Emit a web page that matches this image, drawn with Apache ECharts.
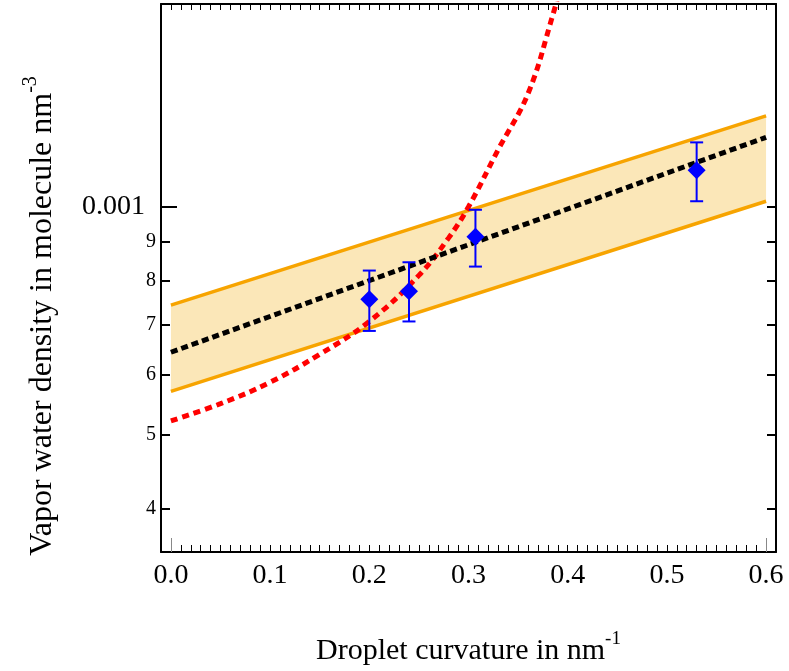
<!DOCTYPE html>
<html><head><meta charset="utf-8">
<script src="https://cdn.jsdelivr.net/npm/echarts@6/dist/echarts.min.js"></script>
<style>html,body{margin:0;padding:0;background:#fff}#c{width:789px;height:671px}</style>
</head><body><div id="c"></div>
<script>
// ---- data ----
const xTickLabels = [0, 0.1, 0.2, 0.3, 0.4, 0.5, 0.6];
const xRange = [-0.01, 0.61];
const yTickValues = [4e-4, 5e-4, 6e-4, 7e-4, 8e-4, 9e-4];
const yTickLabels = ['4', '5', '6', '7', '8', '9'];
const yMajorValue = 1e-3;
const yMajorLabel = '0.001';
const yRange = [3.506e-4, 1.851e-3];

const pointX = [0.200, 0.240, 0.307, 0.530];
const pointY = [7.55e-4, 7.74e-4, 9.13e-4, 1.117e-3];
const errHigh = [8.24e-4, 8.45e-4, 9.91e-4, 1.216e-3];
const errLow = [6.86e-4, 7.06e-4, 8.34e-4, 1.017e-3];

const fitX = [0, 0.6];
const fitMid = [6.43e-4, 1.235e-3];
const fitUpper = [7.42e-4, 1.318e-3];
const fitLower = [5.71e-4, 1.017e-3];

const kelvinX = [0, 0.05, 0.10, 0.15, 0.20, 0.25, 0.28, 0.30, 0.33, 0.36, 0.385, 0.395];
const kelvinY = [5.22e-4, 5.50e-4, 5.87e-4, 6.39e-4, 7.06e-4, 8.12e-4, 9.1e-4, 1.0e-3, 1.19e-3, 1.41e-3, 1.79e-3, 2.0e-3];

const xTitle = 'Droplet curvature in nm';
const xTitleSup = '-1';
const yTitle = 'Vapor water density in molecule nm';
const yTitleSup = '-3';

// ---- build ----
const L = v => Math.log10(v);
const FONT = 'Liberation Serif';
const xMinorTicks = [];
for (let i = 0; i <= 60; i++) xMinorTicks.push(+(i * 0.01).toFixed(2));

const chart = echarts.init(document.getElementById('c'), null, {renderer: 'canvas'});

const axisLineStyle = {show: true, onZero: false, lineStyle: {color: '#000', width: 2}};
const hiddenLine = {show: false, onZero: false};
const baseX = {
  type: 'value', min: xRange[0], max: xRange[1], splitLine: {show: false},
  axisLine: axisLineStyle
};
const baseY = {
  type: 'value', min: L(yRange[0]), max: L(yRange[1]), splitLine: {show: false},
  axisLine: axisLineStyle
};
const yAll = yTickValues.concat([yMajorValue]).map(L);

const titleRich = (size, sup, lh) => ({
  b: {fontFamily: FONT, fontSize: size, color: '#000', lineHeight: lh, verticalAlign: 'bottom'},
  s: {fontFamily: FONT, fontSize: sup, color: '#000', lineHeight: sup, verticalAlign: 'top'}
});

const option = {
  animation: false,
  backgroundColor: '#fff',
  grid: {left: 161, top: 4, width: 615, height: 552, containLabel: false},
  xAxis: [
    Object.assign({}, baseX, {
      position: 'bottom',
      name: '{b|' + xTitle + '}{s|' + xTitleSup + '}',
      nameLocation: 'middle', nameGap: 78,
      nameTextStyle: {rich: titleRich(30, 19, 36)},
      axisTick: {show: true, inside: true, length: 7, customValues: xMinorTicks, lineStyle: {color: '#000', width: 1}},
      axisLabel: {show: true, margin: 10, customValues: xTickLabels, fontFamily: FONT, fontSize: 28, color: '#000',
        formatter: v => v.toFixed(1)}
    }),
    Object.assign({}, baseX, {
      position: 'top',
      axisTick: {show: true, inside: true, length: 6, customValues: xMinorTicks, lineStyle: {color: '#000', width: 1}},
      axisLabel: {show: false}
    }),
    Object.assign({}, baseX, {
      position: 'bottom',
      axisLine: hiddenLine,
      axisTick: {show: true, inside: true, length: 14, customValues: [xTickLabels[0], xTickLabels[xTickLabels.length - 1]], lineStyle: {color: '#888', width: 1}},
      axisLabel: {show: false}
    })
  ],
  yAxis: [
    Object.assign({}, baseY, {
      position: 'left',
      name: '{b|' + yTitle + '}{s|' + yTitleSup + '}',
      nameLocation: 'middle', nameGap: 102, nameRotate: 90,
      nameTextStyle: {rich: titleRich(32, 20, 38), padding: [0, 76, 0, 0]},
      axisTick: {show: true, inside: true, length: 9, customValues: yTickValues.map(L), lineStyle: {color: '#000', width: 2}},
      axisLabel: {show: true, margin: 5, customValues: yTickValues.map(L), fontFamily: FONT, fontSize: 20, color: '#000',
        formatter: v => {
          const i = yTickValues.findIndex(t => Math.abs(L(t) - v) < 1e-6);
          return i >= 0 ? yTickLabels[i] : '';
        }}
    }),
    Object.assign({}, baseY, {
      position: 'left',
      axisLine: hiddenLine,
      axisTick: {show: true, inside: true, length: 16, customValues: [L(yMajorValue)], lineStyle: {color: '#000', width: 2}},
      axisLabel: {show: true, margin: 16, customValues: [L(yMajorValue)], fontFamily: FONT, fontSize: 28, color: '#000',
        formatter: () => yMajorLabel}
    }),
    Object.assign({}, baseY, {
      position: 'right',
      axisTick: {show: true, inside: true, length: 9, customValues: yAll, lineStyle: {color: '#000', width: 2}},
      axisLabel: {show: false}
    })
  ],
  series: [
    {
      type: 'custom', name: 'band', xAxisIndex: 0, yAxisIndex: 0, z: 1,
      data: fitX.map((x, i) => [x, L(fitLower[i]), L(fitUpper[i])]),
      renderItem: (params, api) => {
        if (params.dataIndex !== 0) return null;
        const pts = [];
        for (let i = 0; i < fitX.length; i++) pts.push(api.coord([fitX[i], L(fitLower[i])]));
        for (let i = fitX.length - 1; i >= 0; i--) pts.push(api.coord([fitX[i], L(fitUpper[i])]));
        return {type: 'polygon', shape: {points: pts}, style: {fill: '#fbe7b8'}};
      }
    },
    {
      type: 'line', name: 'upper', z: 2, symbol: 'none',
      data: fitX.map((x, i) => [x, L(fitUpper[i])]),
      lineStyle: {color: '#f7a400', width: 3.5}
    },
    {
      type: 'line', name: 'lower', z: 2, symbol: 'none',
      data: fitX.map((x, i) => [x, L(fitLower[i])]),
      lineStyle: {color: '#f7a400', width: 3.5}
    },
    {
      type: 'line', name: 'kelvin', z: 3, symbol: 'none', smooth: 0.4, clip: true,
      data: kelvinX.map((x, i) => [x, L(kelvinY[i])]),
      lineStyle: {color: '#ff0000', width: 5, type: [7, 5], cap: 'butt'}
    },
    {
      type: 'line', name: 'fit', z: 4, symbol: 'none',
      data: fitX.map((x, i) => [x, L(fitMid[i])]),
      lineStyle: {color: '#000', width: 5, type: [7, 4], cap: 'butt'}
    },
    {
      type: 'custom', name: 'errors', z: 5,
      data: pointX.map((x, i) => [x, L(errLow[i]), L(errHigh[i])]),
      renderItem: (params, api) => {
        const x = api.value(0);
        const lo = api.coord([x, api.value(1)]);
        const hi = api.coord([x, api.value(2)]);
        const w = 6.5;
        const st = {stroke: '#0000ff', lineWidth: 2};
        return {type: 'group', children: [
          {type: 'line', shape: {x1: lo[0], y1: lo[1], x2: hi[0], y2: hi[1]}, style: st},
          {type: 'line', shape: {x1: lo[0] - w, y1: lo[1], x2: lo[0] + w, y2: lo[1]}, style: st},
          {type: 'line', shape: {x1: hi[0] - w, y1: hi[1], x2: hi[0] + w, y2: hi[1]}, style: st}
        ]};
      }
    },
    {
      type: 'scatter', name: 'points', z: 6, symbol: 'diamond', symbolSize: [18, 18],
      data: pointX.map((x, i) => [x, L(pointY[i])]),
      itemStyle: {color: '#0000ff', opacity: 1}
    }
  ]
};
chart.setOption(option);
</script>
</body></html>
